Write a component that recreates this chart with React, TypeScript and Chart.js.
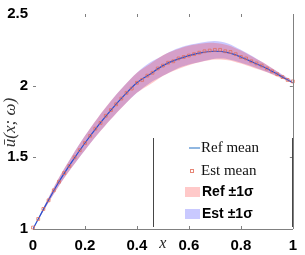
import React, { useEffect, useRef } from "react";
import { Chart, registerables } from "chart.js";

Chart.register(...registerables);

// ---- data ----
const X_REF = [0, 0.05, 0.1, 0.15, 0.2, 0.25, 0.3, 0.35, 0.4, 0.45, 0.5, 0.55, 0.6, 0.65, 0.7, 0.75, 0.8, 0.85, 0.9, 0.95, 1];
const REF_MEAN = [1.0, 1.17, 1.33, 1.47, 1.6, 1.72, 1.83, 1.93, 2.02, 2.08, 2.14, 2.18, 2.21, 2.23, 2.24, 2.23, 2.2, 2.16, 2.12, 2.07, 2.02];
const REF_SIGMA = [0, 0.015, 0.03, 0.04, 0.05, 0.058, 0.064, 0.068, 0.07, 0.072, 0.072, 0.07, 0.068, 0.064, 0.058, 0.052, 0.045, 0.036, 0.026, 0.015, 0.005];
const EST_BAND_MEAN = [1.0, 1.17, 1.33, 1.47, 1.6, 1.72, 1.83, 1.93, 2.02, 2.09, 2.14, 2.185, 2.215, 2.235, 2.25, 2.24, 2.205, 2.165, 2.12, 2.075, 2.03];
const EST_SIGMA = [0, 0.014, 0.028, 0.04, 0.05, 0.057, 0.063, 0.067, 0.07, 0.071, 0.071, 0.07, 0.068, 0.066, 0.062, 0.055, 0.045, 0.035, 0.024, 0.013, 0.004];

const X_EST = [
  0, 0.02, 0.04, 0.06, 0.08, 0.1, 0.12, 0.14, 0.16, 0.18, 0.2, 0.22, 0.24, 0.26, 0.28, 0.3, 0.32, 0.34, 0.36, 0.38,
  0.4, 0.42, 0.44, 0.46, 0.48, 0.5, 0.52, 0.54, 0.56, 0.58, 0.6, 0.62, 0.64, 0.66, 0.68, 0.7, 0.72, 0.74, 0.76, 0.78,
  0.8, 0.82, 0.84, 0.86, 0.88, 0.9, 0.92, 0.94, 0.96, 0.98, 1,
];
const EST_MEAN = [
  1.01, 1.07, 1.14, 1.2, 1.27, 1.33, 1.39, 1.44, 1.5, 1.55, 1.6, 1.65, 1.7, 1.74, 1.79, 1.83, 1.87, 1.91, 1.95, 1.98,
  2.02, 2.04, 2.07, 2.09, 2.12, 2.14, 2.16, 2.17, 2.19, 2.2, 2.21, 2.22, 2.23, 2.24, 2.245, 2.25, 2.25, 2.24, 2.235, 2.22,
  2.2, 2.19, 2.17, 2.155, 2.14, 2.12, 2.1, 2.08, 2.06, 2.04, 2.03,
];

const X_TICKS = [0, 0.2, 0.4, 0.6, 0.8, 1];
const X_TICK_LABELS = ["0", "0.2", "0.4", "0.6", "0.8", "1"];
const Y_TICKS = [1, 1.5, 2, 2.5];
const Y_TICK_LABELS = ["1", "1.5", "2", "2.5"];

const X_TITLE = "x";
const Y_TITLE = "\u016b(x; \u03c9)";
const LEGEND_LABELS = ["Ref mean", "Est mean", "Ref \u00b11\u03c3", "Est \u00b11\u03c3"];

// ---- styles ----
const LINE_COLOR = "rgb(40,80,210)";
const LEGEND_LINE_COLOR = "rgb(70,135,205)";
const MARKER_COLOR = "rgba(225,105,85,0.8)";
const REF_FILL = "rgba(255,0,0,0.21)";
const EST_FILL = "rgba(0,0,255,0.21)";
const AXIS_COLOR = "rgb(128,128,128)";
const TICK_FONT = { family: "'Liberation Sans', Arial, sans-serif", size: 15, weight: "bold" as const };

const inwardTicks = {
  id: "inwardTicks",
  afterDraw(chart: any) {
    const { ctx, chartArea, scales } = chart;
    const { left, right, top, bottom } = chartArea;
    ctx.save();
    ctx.strokeStyle = AXIS_COLOR;
    ctx.lineWidth = 1;
    ctx.beginPath();
    ctx.moveTo(Math.round(right) + 0.5, top);
    ctx.lineTo(Math.round(right) + 0.5, bottom);
    X_TICKS.forEach((v) => {
      if (v === 0 || v === 1) return;
      const px = Math.round(scales.x.getPixelForValue(v)) + 0.5;
      ctx.moveTo(px, bottom);
      ctx.lineTo(px, bottom - 3);
      ctx.moveTo(px, top);
      ctx.lineTo(px, top + 3);
    });
    Y_TICKS.forEach((v) => {
      if (v === 1 || v === 2.5) return;
      const py = Math.round(scales.y.getPixelForValue(v)) + 0.5;
      ctx.moveTo(left, py);
      ctx.lineTo(left + 3, py);
      ctx.moveTo(right, py);
      ctx.lineTo(right - 3, py);
    });
    ctx.stroke();

    // y-axis title
    const cy = (top + bottom) / 2 + 1;
    ctx.translate(11, cy);
    ctx.rotate(-Math.PI / 2);
    ctx.fillStyle = "#333";
    ctx.font = "italic 17px 'Liberation Serif', serif";
    ctx.textAlign = "center";
    ctx.textBaseline = "middle";
    ctx.fillText(Y_TITLE, 0, 0);
    ctx.restore();
  },
};

const customLegend = {
  id: "customLegend",
  afterDraw(chart: any) {
    const { ctx } = chart;
    ctx.save();
    ctx.strokeStyle = "rgb(70,70,70)";
    ctx.lineWidth = 1;
    ctx.beginPath();
    ctx.moveTo(153.5, 138);
    ctx.lineTo(153.5, 227);
    ctx.moveTo(292.5, 138);
    ctx.lineTo(292.5, 227);
    ctx.stroke();

    const textX = 201;
    const rows = [148, 171, 192, 214];
    ctx.strokeStyle = LEGEND_LINE_COLOR;
    ctx.lineWidth = 1.2;
    ctx.beginPath();
    ctx.moveTo(189, rows[0]);
    ctx.lineTo(200, rows[0]);
    ctx.stroke();
    ctx.strokeStyle = MARKER_COLOR;
    ctx.lineWidth = 1;
    ctx.strokeRect(190.5, rows[1] - 1.5, 3, 3);
    ctx.fillStyle = REF_FILL;
    ctx.fillRect(185, rows[2] - 5, 15, 10);
    ctx.fillStyle = EST_FILL;
    ctx.fillRect(185, rows[3] - 5, 15, 10);

    ctx.fillStyle = "#111";
    ctx.textBaseline = "middle";
    ctx.textAlign = "left";
    ctx.font = "15px 'Liberation Serif', serif";
    ctx.fillText(LEGEND_LABELS[0], textX, rows[0]);
    ctx.fillText(LEGEND_LABELS[1], textX, rows[1]);
    ctx.font = "bold 14px 'Liberation Sans', Arial, sans-serif";
    ctx.fillStyle = "#000";
    ctx.fillText(LEGEND_LABELS[2], textX + 1, rows[2]);
    ctx.fillText(LEGEND_LABELS[3], textX + 1, rows[3]);
    ctx.restore();
  },
};

export default function App() {
  const ref = useRef<HTMLCanvasElement | null>(null);

  useEffect(() => {
    document.body.style.margin = "0";
    const canvas = ref.current;
    if (!canvas) return;

    const refPts = (arr: number[]) => X_REF.map((x, i) => ({ x, y: arr[i] }));
    const refUpper = refPts(REF_MEAN.map((m, i) => m + REF_SIGMA[i]));
    const refLower = refPts(REF_MEAN.map((m, i) => m - REF_SIGMA[i]));
    const estUpper = refPts(EST_BAND_MEAN.map((m, i) => m + EST_SIGMA[i]));
    const estLower = refPts(EST_BAND_MEAN.map((m, i) => m - EST_SIGMA[i]));

    const bandBase = { pointRadius: 0, borderWidth: 0, tension: 0.3 };

    const chart = new Chart(canvas, {
      type: "line",
      data: {
        datasets: [
          {
            label: LEGEND_LABELS[1],
            data: X_EST.map((x, i) => ({ x, y: EST_MEAN[i] })),
            showLine: false,
            pointStyle: "rect",
            pointRadius: 2,
            pointBorderWidth: 0.9,
            pointBorderColor: MARKER_COLOR,
            pointBackgroundColor: "rgba(0,0,0,0)",
            clip: false,
            order: 0,
          } as any,
          {
            label: LEGEND_LABELS[0],
            data: refPts(REF_MEAN),
            borderColor: LINE_COLOR,
            borderWidth: 1.2,
            pointRadius: 0,
            tension: 0.3,
            fill: false,
            order: 1,
          },
          { label: "refLower", data: refLower, ...bandBase, fill: false, order: 2 },
          { label: LEGEND_LABELS[2], data: refUpper, ...bandBase, fill: "-1", backgroundColor: REF_FILL, order: 3 },
          { label: "estLower", data: estLower, ...bandBase, fill: false, order: 4 },
          { label: LEGEND_LABELS[3], data: estUpper, ...bandBase, fill: "-1", backgroundColor: EST_FILL, order: 5 },
        ],
      },
      options: {
        animation: false,
        responsive: false,
        maintainAspectRatio: false,
        events: [],
        layout: { padding: { top: 9, right: 7, left: 0, bottom: 0 } },
        plugins: {
          legend: { display: false },
          tooltip: { enabled: false },
          filler: { propagate: false },
        },
        scales: {
          x: {
            type: "linear",
            min: 0,
            max: 1,
            afterBuildTicks: (s: any) => {
              s.ticks = X_TICKS.map((v) => ({ value: v }));
            },
            afterFit: (s: any) => {
              s.height = 26;
            },
            grid: { display: false, drawTicks: false },
            border: { display: true, color: AXIS_COLOR, width: 1 },
            ticks: {
              color: "#000",
              font: TICK_FONT,
              padding: 8,
              maxRotation: 0,
              autoSkip: false,
              callback: (_v: any, i: number) => X_TICK_LABELS[i],
            },
            title: {
              display: true,
              text: X_TITLE,
              color: "#222",
              font: { family: "'Liberation Serif', serif", style: "italic", size: 16 },
              padding: { top: 0, bottom: 2 },
            },
          },
          y: {
            type: "linear",
            min: 1,
            max: 2.5,
            afterBuildTicks: (s: any) => {
              s.ticks = Y_TICKS.map((v) => ({ value: v }));
            },
            afterFit: (s: any) => {
              s.width = 33;
            },
            grid: { display: false, drawTicks: false },
            border: { display: false },
            ticks: {
              color: "#000",
              font: TICK_FONT,
              padding: 5,
              callback: (_v: any, i: number) => Y_TICK_LABELS[i],
            },
          },
        },
      },
      plugins: [inwardTicks, customLegend],
    });

    return () => chart.destroy();
  }, []);

  return (
    <div style={{ position: "absolute", left: 0, top: 0, width: 305, height: 255, background: "#fff" }}>
      <canvas ref={ref} width={305} height={255} style={{ width: 305, height: 255, display: "block" }} />
    </div>
  );
}
